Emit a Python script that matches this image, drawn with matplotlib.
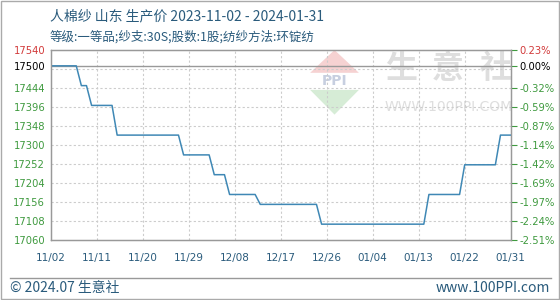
import matplotlib
matplotlib.use('Agg')
import matplotlib.pyplot as plt
import matplotlib.dates as mdates
import pandas as pd
from matplotlib.patches import Polygon, Rectangle

plt.rcParams['font.family'] = ['Noto Sans CJK SC', 'DejaVu Sans']

# corner points of the price line
dates = ['2023-11-02', '2023-11-07', '2023-11-08', '2023-11-09', '2023-11-10',
         '2023-11-14', '2023-11-15', '2023-11-27', '2023-11-28', '2023-12-03',
         '2023-12-04', '2023-12-06', '2023-12-07', '2023-12-12', '2023-12-13',
         '2023-12-24', '2023-12-25', '2024-01-14', '2024-01-15', '2024-01-21',
         '2024-01-22', '2024-01-28', '2024-01-29', '2024-01-31']
prices = [17500, 17500, 17450, 17450, 17400,
          17400, 17325, 17325, 17275, 17275,
          17225, 17225, 17175, 17175, 17150,
          17150, 17100, 17100, 17175, 17175,
          17250, 17250, 17325, 17325]

base_price = 17500
y_ticks = [17060, 17108, 17156, 17204, 17252, 17300, 17348, 17396, 17444, 17500, 17540]
pct_labels = ['-2.51%', '-2.24%', '-1.97%', '-1.69%', '-1.42%', '-1.14%',
              '-0.87%', '-0.59%', '-0.32%', '0.00%', '0.23%']
grid_vals = [17108, 17156, 17204, 17252, 17300, 17348, 17396, 17444, 17492]
x_ticks = ['2023-11-02', '2023-11-11', '2023-11-20', '2023-11-29', '2023-12-08',
           '2023-12-17', '2023-12-26', '2024-01-04', '2024-01-13', '2024-01-22',
           '2024-01-31']

title = '人棉纱 山东 生产价 2023-11-02 - 2024-01-31'
subtitle = '等级:一等品;纱支:30S;股数:1股;纺纱方法:环锭纺'

dx = pd.to_datetime(dates)
xt = pd.to_datetime(x_ticks)

fig = plt.figure(figsize=(5.6, 3.0), dpi=100)
ax = fig.add_axes([50.7 / 560, 60 / 300, 460 / 560, 190 / 300])

green = '#3f9a3f'
red = '#d23b3b'
text_blue = '#2a5b7c'
num_font = 'DejaVu Sans'

# watermark
wm = '#dedede'
for ch, xf in zip('生意社', [0.762, 0.864, 0.966]):
    ax.text(xf, 0.9, ch, transform=ax.transAxes, fontsize=23, color=wm,
            ha='center', va='center', fontweight='bold', zorder=0)
ax.text(0.864, 0.70, 'WWW.100PPI.COM', transform=ax.transAxes, fontsize=10,
        color=wm, ha='center', va='center', zorder=0, family=num_font)
ax.add_patch(Polygon([[0.564, 0.88], [0.617, 1.0], [0.67, 0.88]], closed=True,
                     transform=ax.transAxes, color='#f6d2d2', lw=0, zorder=0))
ax.add_patch(Polygon([[0.564, 0.79], [0.67, 0.79], [0.617, 0.66]], closed=True,
                     transform=ax.transAxes, color='#d6ecd6', lw=0, zorder=0))
ax.text(0.617, 0.835, 'PPI', transform=ax.transAxes, fontsize=10, color='#c7cfe0',
        ha='center', va='center', fontweight='bold', zorder=0, family=num_font)

ax.plot(dx, prices, color='#3f88b5', lw=1.1, zorder=3)
ax.axhline(base_price, color='#999999', lw=1, zorder=2)

ax.set_xlim(xt[0], xt[-1])
ax.set_ylim(y_ticks[0], y_ticks[-1])

for g in grid_vals:
    ax.axhline(g, color='#cccccc', lw=0.8, ls=(0, (2, 2)), zorder=1)
for t in xt[1:-1]:
    ax.axvline(t, color='#cccccc', lw=0.8, ls=(0, (2, 2)), zorder=1)

ax.set_xticks(xt)
ax.xaxis.set_major_formatter(mdates.DateFormatter('%m/%d'))
ax.tick_params(axis='x', length=0, pad=9, labelsize=7.5, labelcolor=text_blue)
for lab in ax.get_xticklabels():
    lab.set_family(num_font)

ax.set_yticks(y_ticks)
ax.set_yticklabels([str(v) for v in y_ticks], fontsize=7.2, family=num_font)
ax.tick_params(axis='y', length=0, pad=4)
for lab, v in zip(ax.get_yticklabels(), y_ticks):
    lab.set_color(red if v > base_price else ('black' if v == base_price else green))

ax2 = ax.twinx()
ax2.set_ylim(ax.get_ylim())
ax2.set_yticks(y_ticks)
ax2.set_yticklabels(pct_labels, fontsize=7.2, family=num_font)
ax2.tick_params(axis='y', length=4, pad=2, color=green)
for lab, v in zip(ax2.get_yticklabels(), y_ticks):
    lab.set_color(red if v > base_price else ('black' if v == base_price else green))

for a in (ax, ax2):
    for s in a.spines.values():
        s.set_color('#999999')
        s.set_linewidth(0.9)

fig.text(50 / 560, 1 - 16 / 300, title, fontsize=10, color=text_blue, va='center')
fig.text(50 / 560, 1 - 37 / 300, subtitle, fontsize=9, color=text_blue, va='center')

# footer
fig.add_artist(plt.Line2D([10 / 560, 551 / 560], [1 - 277.5 / 300] * 2,
                          color='#999999', lw=1))
fig.text(10 / 560, 1 - 288 / 300, '© 2024.07 生意社', fontsize=10, color=text_blue,
         va='center')
fig.text(550 / 560, 1 - 288 / 300, 'www.100PPI.com', fontsize=10, color=text_blue,
         va='center', ha='right')

# outer frame
fig.add_artist(Rectangle((0.001, 0.002), 0.997, 0.995, transform=fig.transFigure,
                         fill=False, edgecolor='#aaaaaa', lw=1))

fig.savefig('out.png', dpi=100)
